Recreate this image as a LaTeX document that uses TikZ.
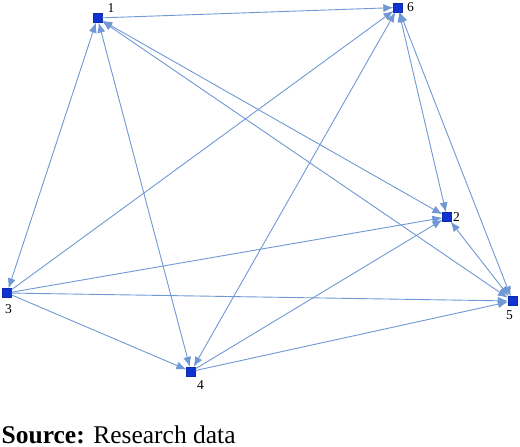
\documentclass[tikz,border=0pt]{standalone}
\usepackage{fontspec}
\setmainfont{Liberation Serif}
\usetikzlibrary{arrows.meta}
\definecolor{nodeblue}{RGB}{16,52,210}
\definecolor{edgeblue}{RGB}{112,152,212}
\begin{document}
\begin{tikzpicture}[x=1pt,y=-1pt,
  actor/.style={draw=nodeblue!80!black,fill=nodeblue,rectangle,minimum size=9pt,inner sep=0pt,line width=0.3pt},
  lbl/.style={inner sep=0pt,font=\fontsize{13.5}{14}\selectfont},
  tie/.style={draw=edgeblue,line width=0.9pt,-{Latex[length=10pt,width=8pt]}},
  mutual/.style={draw=edgeblue,line width=0.9pt,{Latex[length=10pt,width=8pt]}-{Latex[length=10pt,width=8pt]}}]
\useasboundingbox (0,0) rectangle (520,447);
\node[actor] (n1) at (97.5,18) {};
\node[actor] (n6) at (398,7.5) {};
\node[actor] (n2) at (447,217) {};
\node[actor] (n3) at (7,293) {};
\node[actor] (n5) at (512.5,301) {};
\node[actor] (n4) at (191,371.5) {};
\node[lbl] (l1) at (111,8.5) {1};
\node[lbl] (l6) at (410.5,7.5) {6};
\node[lbl] (l2) at (456.5,217) {2};
\node[lbl] (l3) at (8.5,309) {3};
\node[lbl] (l5) at (509.5,315) {5};
\node[lbl] (l4) at (200.5,385) {4};
% ties
\draw[tie] (n1) -- (n6);
\draw[mutual] (n1) -- (n3);
\draw[mutual] (n1) -- (n4);
\draw[mutual] (n1) -- (n2);
\draw[mutual] (n1) -- (n5);
\draw[tie] (n3) -- (n2);
\draw[tie] (n3) -- (n5);
\draw[tie] (n3) -- (n4);
\draw[tie] (n3) -- (n6);
\draw[tie] (n4) -- (n2);
\draw[tie] (n4) -- (n5);
\draw[mutual] (n4) -- (n6);
\draw[mutual] (n2) -- (n6);
\draw[mutual] (n5) -- (n6);
\draw[mutual] (n2) -- (n5);
\node[anchor=base west,inner sep=0pt,font=\fontsize{25.5}{28}\selectfont] (src) at (1.5,443.5) {\textbf{Source:} Research data};
\end{tikzpicture}
\end{document}
